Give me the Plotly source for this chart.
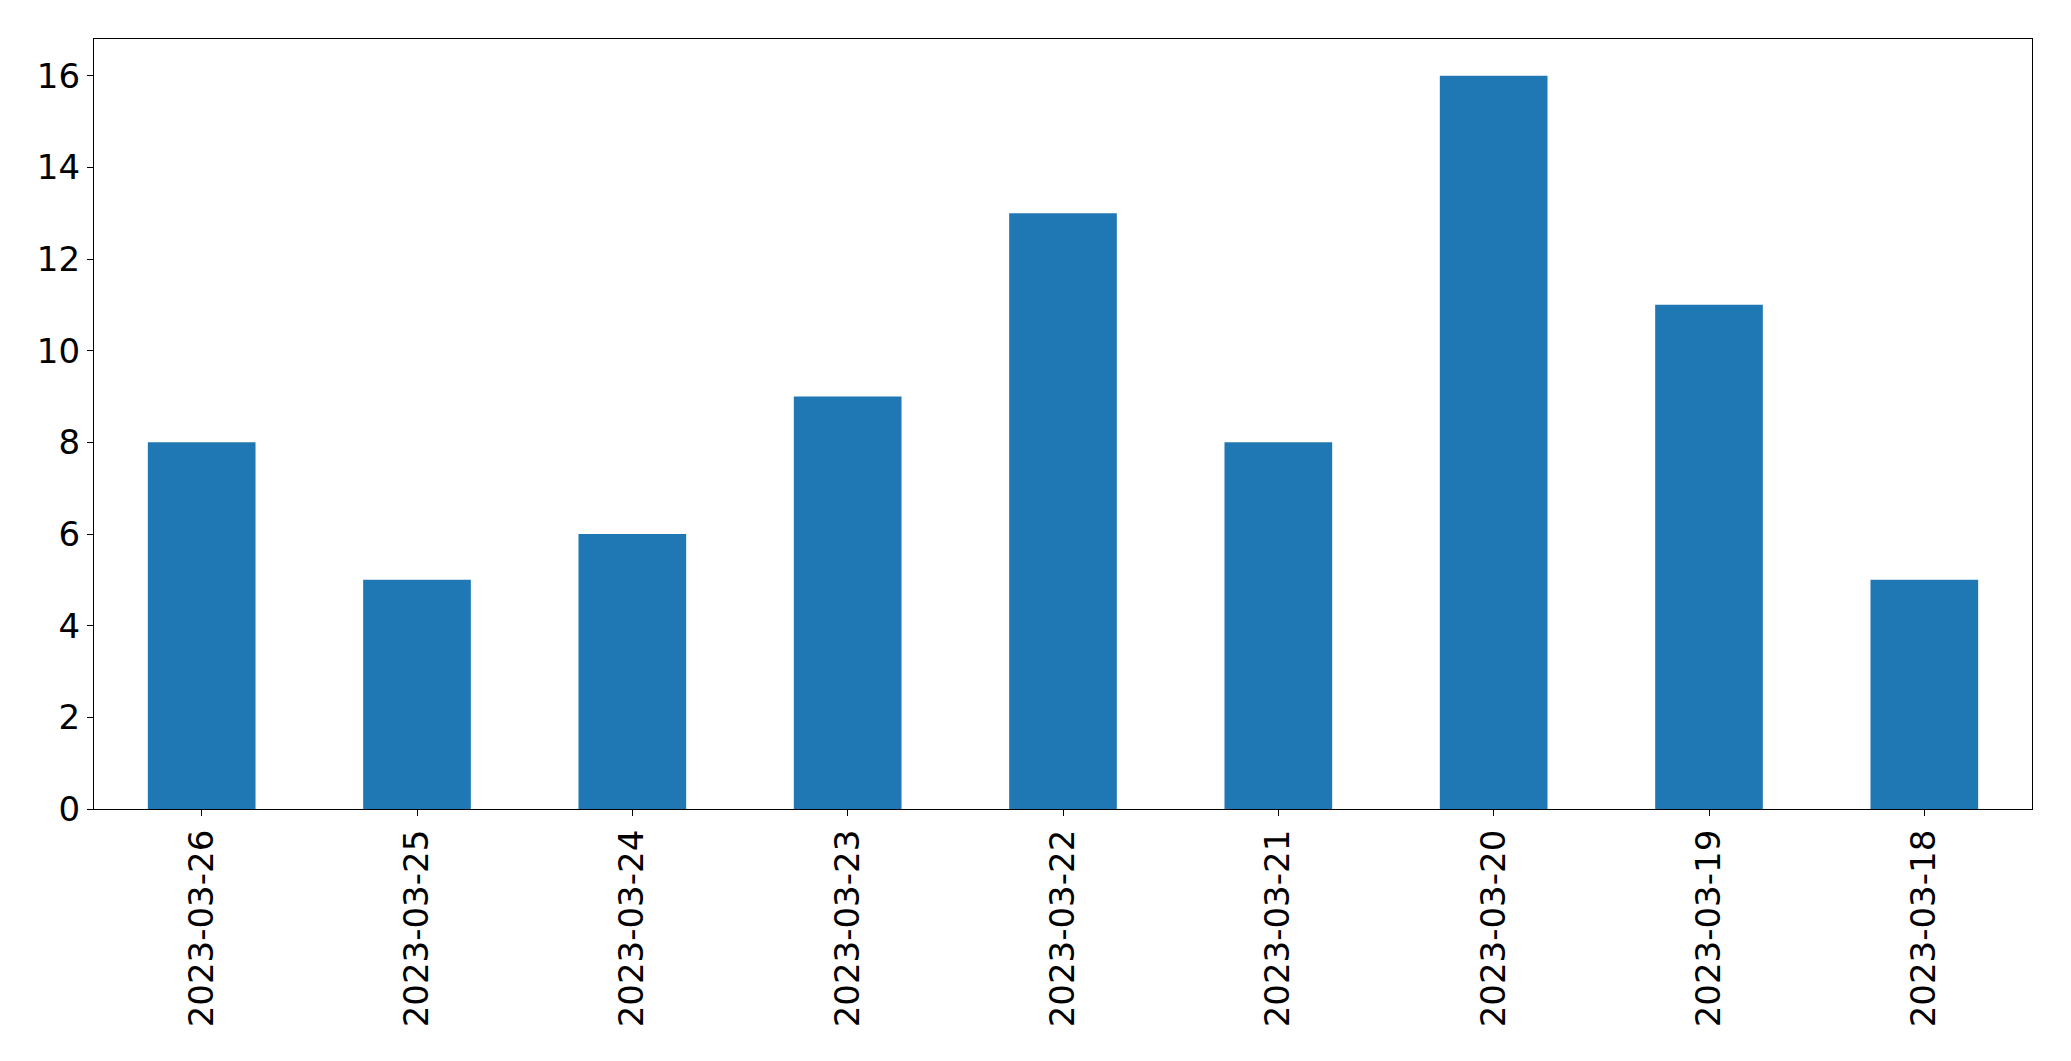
import plotly.graph_objects as go

dates = ["2023-03-26", "2023-03-25", "2023-03-24", "2023-03-23", "2023-03-22",
         "2023-03-21", "2023-03-20", "2023-03-19", "2023-03-18"]
counts = [8, 5, 6, 9, 13, 8, 16, 11, 5]

fig = go.Figure(go.Bar(x=dates, y=counts, marker=dict(color="#1f77b4", line=dict(width=0)), width=0.5))

axis_common = dict(
    showline=True, linecolor="black", linewidth=1.3, mirror=True,
    ticks="outside", ticklen=6, tickwidth=1.3, tickcolor="black",
    showgrid=False, zeroline=False,
    tickfont=dict(family="DejaVu Sans", size=34, color="black"),
)

fig.update_layout(
    width=2071, height=1061,
    margin=dict(l=94, r=39, t=39, b=252),
    paper_bgcolor="white", plot_bgcolor="white",
    showlegend=False,
    font=dict(family="DejaVu Sans", color="black"),
    bargap=0.5,
)
fig.update_xaxes(type="category", range=[-0.5, 8.5], tickangle=-90, **axis_common)
fig.update_yaxes(range=[0, 16.8], tickvals=[0, 2, 4, 6, 8, 10, 12, 14, 16], **axis_common)

fig.write_html("out.html")
